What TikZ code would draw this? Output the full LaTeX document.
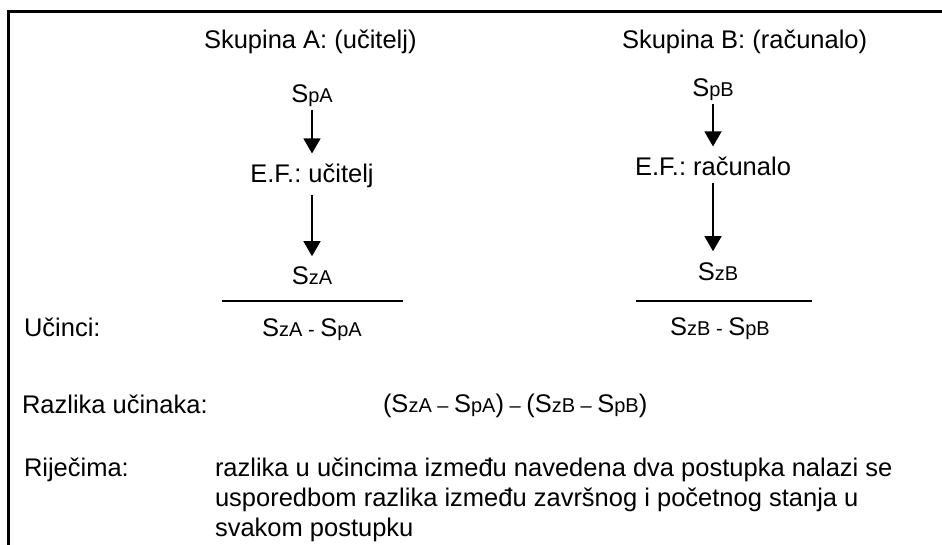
\documentclass[tikz,border=0pt]{standalone}
\usepackage{fontspec}
\setmainfont{Liberation Sans}
\usetikzlibrary{arrows.meta}
\frenchspacing

% text sizes: body text and the small letters after S
\newcommand{\bodysz}{\fontsize{25.5}{30}\selectfont}
\newcommand{\lowsz}{\fontsize{20}{23}\selectfont}
% a state symbol: large S followed by small index letters
\newcommand{\St}[1]{S{\lowsz #1}}
\newcommand{\dsh}{{\lowsz\ --\ }}

\begin{document}
\begin{tikzpicture}[x=1pt,y=-1pt,
  txt/.style={inner sep=0pt,outer sep=0pt,font=\bodysz,anchor=base},
  lbl/.style={txt,anchor=base west},
  arr/.style={line width=1.4pt,-{Triangle[width=17pt,length=15pt]}},
  rule/.style={line width=1.6pt},
  frame/.style={line width=3pt}]
\useasboundingbox (0,0) rectangle (942,545);

% frame: top and left edges only
\draw[frame] (8,545) -- (8,12) -- (942,12);

% column headings
\node[lbl] (ha) at (204,49) {Skupina A: (učitelj)};
\node[lbl] (hb) at (622,49) {Skupina B: (računalo)};

% group A
\node[txt] (spa) at (312,103) {\St{pA}};
\node[txt] (efa) at (312,183) {E.F.: učitelj};
\node[txt] (sza) at (312,285) {\St{zA}};
\node[txt] (da)  at (312,336) {\St{zA}{\lowsz\ -\ }\St{pA}};
\draw[arr] ([yshift=-3pt]spa.south) -- ([yshift=11pt]efa.north);
\draw[arr] ([yshift=-7pt]efa.south) -- ([yshift=11pt]sza.north);
\draw[rule] (222,301) -- (403,301);

% group B
\node[txt] (spb) at (713,97) {\St{pB}};
\node[txt] (efb) at (713,176) {E.F.: računalo};
\node[txt] (szb) at (718,280) {\St{zB}};
\node[txt] (db)  at (720,335) {\St{zB}{\lowsz\ -\ }\St{pB}};
\draw[arr] ([yshift=-3pt]spb.south) -- ([yshift=11pt]efb.north);
\draw[arr] ([yshift=-7pt]efb.south) -- ([yshift=11pt]efb.south |- szb.north);
\draw[rule] (636,301) -- (812,301);

% row labels
\node[lbl] (uc) at (24,336) {Učinci:};
\node[lbl] (rz) at (22,413) {Razlika učinaka:};
\node[lbl] (fm) at (383,412) {(\St{zA}\dsh\St{pA})\dsh(\St{zB}\dsh\St{pB})};

\node[lbl] (rj) at (24,476) {Riječima:};
\node[lbl] (r1) at (215,476) {razlika u učincima između navedena dva postupka nalazi se};
\node[lbl] (r2) at (215,506) {usporedbom razlika između završnog i početnog stanja u};
\node[lbl] (r3) at (215,536) {svakom postupku};
\end{tikzpicture}
\end{document}
